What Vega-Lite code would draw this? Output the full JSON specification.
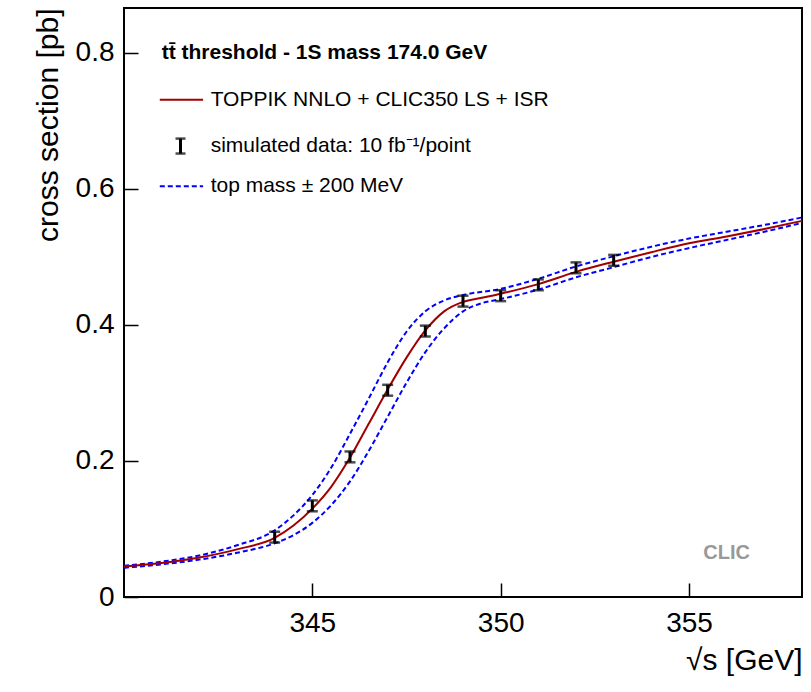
{
"$schema":"https://vega.github.io/schema/vega-lite/v6.json",
"width":678,"height":589,
"autosize":{"type":"none"},
"padding":{"left":124,"top":8,"right":9,"bottom":95},
"background":"white",
"config":{"font":"Liberation Sans","view":{"stroke":"black","strokeWidth":2}},
"datasets":{
"c":[{"x":340,"y":0.045},{"x":341,"y":0.05},{"x":342,"y":0.058},{"x":343,"y":0.07},{"x":344,"y":0.087},{"x":344.5,"y":0.105},{"x":345,"y":0.13},{"x":345.5,"y":0.162},{"x":346,"y":0.205},{"x":346.5,"y":0.255},{"x":347,"y":0.305},{"x":347.5,"y":0.352},{"x":348,"y":0.392},{"x":348.5,"y":0.42},{"x":349,"y":0.434},{"x":349.5,"y":0.44},{"x":350,"y":0.446},{"x":351,"y":0.46},{"x":352,"y":0.478},{"x":353,"y":0.493},{"x":354,"y":0.507},{"x":355,"y":0.52},{"x":356,"y":0.53},{"x":357,"y":0.541},{"x":358,"y":0.553}],
"u":[{"x":340,"y":0.046},{"x":341,"y":0.052},{"x":342,"y":0.061},{"x":343,"y":0.076},{"x":344,"y":0.098},{"x":344.5,"y":0.12},{"x":345,"y":0.15},{"x":345.5,"y":0.19},{"x":346,"y":0.24},{"x":346.5,"y":0.292},{"x":347,"y":0.345},{"x":347.5,"y":0.39},{"x":348,"y":0.42},{"x":348.5,"y":0.436},{"x":349,"y":0.444},{"x":350,"y":0.453},{"x":351,"y":0.468},{"x":352,"y":0.486},{"x":353,"y":0.501},{"x":354,"y":0.515},{"x":355,"y":0.527},{"x":356,"y":0.537},{"x":357,"y":0.547},{"x":358,"y":0.558}],
"l":[{"x":340,"y":0.043},{"x":341,"y":0.048},{"x":342,"y":0.055},{"x":343,"y":0.065},{"x":344,"y":0.079},{"x":344.5,"y":0.091},{"x":345,"y":0.109},{"x":345.5,"y":0.135},{"x":346,"y":0.17},{"x":346.5,"y":0.215},{"x":347,"y":0.265},{"x":347.5,"y":0.315},{"x":348,"y":0.36},{"x":348.5,"y":0.395},{"x":349,"y":0.42},{"x":349.5,"y":0.432},{"x":350,"y":0.438},{"x":351,"y":0.452},{"x":352,"y":0.47},{"x":353,"y":0.485},{"x":354,"y":0.5},{"x":355,"y":0.513},{"x":356,"y":0.525},{"x":357,"y":0.537},{"x":358,"y":0.55}],
"p":[{"x":344,"y":0.088},{"x":345,"y":0.134},{"x":346,"y":0.206},{"x":347,"y":0.304},{"x":348,"y":0.391},{"x":349,"y":0.435},{"x":350,"y":0.443},{"x":351,"y":0.459},{"x":352,"y":0.484},{"x":353,"y":0.495}],
"leg":[{"x":342.3,"y":0.731,"t":"TOPPIK NNLO + CLIC350 LS + ISR"},{"x":342.3,"y":0.663,"t":"simulated data: 10 fb⁻¹/point"},{"x":342.3,"y":0.604,"t":"top mass ± 200 MeV"}]
},
"layer":[
{"data":{"name":"u"},"mark":{"type":"line","color":"#0000ff","strokeDash":[5,3],"strokeWidth":2,"interpolate":"monotone"},
 "encoding":{"x":{"field":"x","type":"quantitative","scale":{"domain":[340,358],"nice":false,"zero":false},
   "axis":{"values":[345,350,355],"title":"√s [GeV]","titleAnchor":"end","titleFontSize":30,"titleFontWeight":"normal","labelFontSize":28,"labelPadding":26,"tickSize":-14,"tickWidth":1.5,"domain":false,"grid":false,"titlePadding":8,"labelColor":"black","titleColor":"black","tickColor":"black"}},
  "y":{"field":"y","type":"quantitative","scale":{"domain":[0,0.866],"nice":false},
   "axis":{"values":[0,0.2,0.4,0.6,0.8],"format":"~g","title":"cross section [pb]","titleAnchor":"end","titleFontSize":30,"titleFontWeight":"normal","labelFontSize":28,"labelPadding":24,"tickSize":-14,"tickWidth":1.5,"domain":false,"grid":false,"titlePadding":12,"labelColor":"black","titleColor":"black","tickColor":"black"}}}},
{"data":{"name":"l"},"mark":{"type":"line","color":"#0000ff","strokeDash":[5,3],"strokeWidth":2,"interpolate":"monotone"},
 "encoding":{"x":{"field":"x","type":"quantitative"},"y":{"field":"y","type":"quantitative"}}},
{"data":{"name":"c"},"mark":{"type":"line","color":"#a00000","strokeWidth":2,"interpolate":"monotone"},
 "encoding":{"x":{"field":"x","type":"quantitative"},"y":{"field":"y","type":"quantitative"}}},
{"data":{"name":"p"},"transform":[{"calculate":"datum.y-0.008","as":"lo"},{"calculate":"datum.y+0.008","as":"hi"}],"mark":{"type":"rule","color":"black","strokeWidth":3},
 "encoding":{"x":{"field":"x","type":"quantitative"},"y":{"field":"lo","type":"quantitative"},"y2":{"field":"hi"}}},
{"data":{"name":"p"},"transform":[{"calculate":"datum.y-0.008","as":"lo"}],"mark":{"type":"tick","color":"black","size":11,"thickness":2.5,"orient":"horizontal"},
 "encoding":{"x":{"field":"x","type":"quantitative"},"y":{"field":"lo","type":"quantitative"}}},
{"data":{"name":"p"},"transform":[{"calculate":"datum.y+0.008","as":"hi"}],"mark":{"type":"tick","color":"black","size":11,"thickness":2.5,"orient":"horizontal"},
 "encoding":{"x":{"field":"x","type":"quantitative"},"y":{"field":"hi","type":"quantitative"}}},
{"data":{"values":[{"x":341.0,"y":0.8,"t":"tt̄ threshold - 1S mass 174.0 GeV"}]},"mark":{"type":"text","align":"left","baseline":"middle","fontSize":21,"fontWeight":"bold"},
 "encoding":{"x":{"field":"x","type":"quantitative"},"y":{"field":"y","type":"quantitative"},"text":{"field":"t"}}},
{"data":{"name":"leg"},"mark":{"type":"text","align":"left","baseline":"middle","fontSize":21},
 "encoding":{"x":{"field":"x","type":"quantitative"},"y":{"field":"y","type":"quantitative"},"text":{"field":"t"}}},
{"data":{"values":[{"x":340.95,"x2":342.1,"y":0.731}]},"mark":{"type":"rule","color":"#a00000","strokeWidth":2},
 "encoding":{"x":{"field":"x","type":"quantitative"},"x2":{"field":"x2"},"y":{"field":"y","type":"quantitative"}}},
{"data":{"values":[{"x":340.95,"x2":342.1,"y":0.604}]},"mark":{"type":"rule","color":"#0000ff","strokeWidth":2,"strokeDash":[5,3]},
 "encoding":{"x":{"field":"x","type":"quantitative"},"x2":{"field":"x2"},"y":{"field":"y","type":"quantitative"}}},
{"data":{"values":[{"x":341.5,"y":0.652,"y2":0.674}]},"mark":{"type":"rule","color":"black","strokeWidth":3},
 "encoding":{"x":{"field":"x","type":"quantitative"},"y":{"field":"y","type":"quantitative"},"y2":{"field":"y2"}}},
{"data":{"values":[{"x":341.5,"y":0.652},{"x":341.5,"y":0.674}]},"mark":{"type":"tick","color":"black","size":10,"thickness":2.5,"orient":"horizontal"},
 "encoding":{"x":{"field":"x","type":"quantitative"},"y":{"field":"y","type":"quantitative"}}},
{"data":{"values":[{"x":356.0,"y":0.065,"t":"CLIC"}]},"mark":{"type":"text","align":"center","baseline":"middle","fontSize":20,"fontWeight":"bold","color":"#999999"},
 "encoding":{"x":{"field":"x","type":"quantitative"},"y":{"field":"y","type":"quantitative"},"text":{"field":"t"}}}
]
}
